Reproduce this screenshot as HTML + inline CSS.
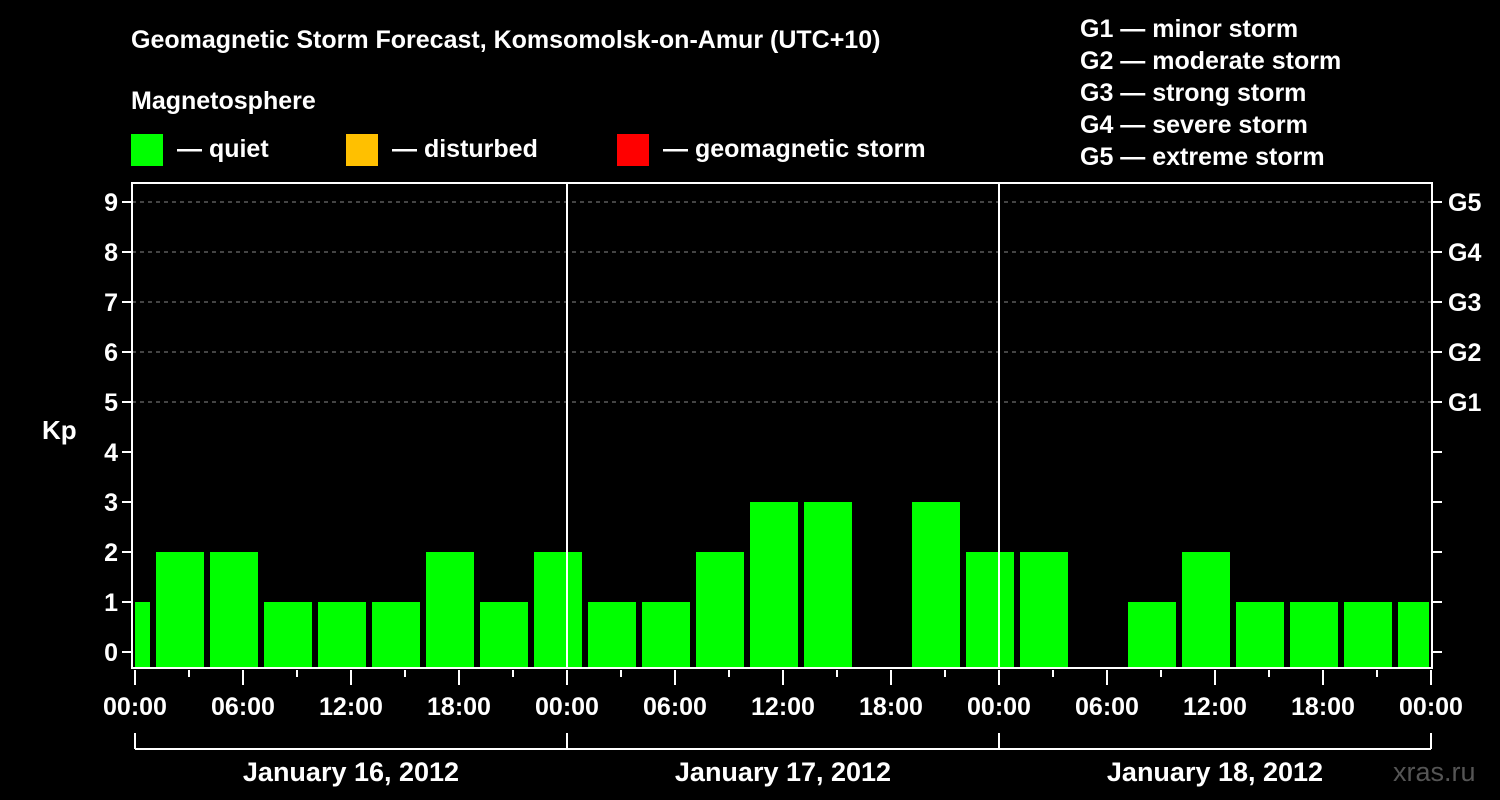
<!DOCTYPE html>
<html><head><meta charset="utf-8"><style>
html,body{margin:0;padding:0;background:#000;}
svg{display:block;font-family:"Liberation Sans",Arial,sans-serif;font-weight:bold;}
</style></head><body>
<svg id="chart" width="1500" height="800" viewBox="0 0 1500 800">
<rect width="1500" height="800" fill="#000"/>
<text x="131" y="48" fill="#fff" font-size="25">Geomagnetic Storm Forecast, Komsomolsk-on-Amur (UTC+10)</text>
<text x="131" y="109" fill="#fff" font-size="25">Magnetosphere</text>
<g><rect x="131" y="134" width="32" height="32" fill="#00ff00"/><text x="177" y="157" fill="#fff" font-size="25">— quiet</text></g>
<g><rect x="346" y="134" width="32" height="32" fill="#ffc000"/><text x="392" y="157" fill="#fff" font-size="25">— disturbed</text></g>
<g><rect x="617" y="134" width="32" height="32" fill="#ff0000"/><text x="663" y="157" fill="#fff" font-size="25">— geomagnetic storm</text></g>
<g fill="#fff" font-size="25">
<text x="1080" y="37">G1 — minor storm</text>
<text x="1080" y="69">G2 — moderate storm</text>
<text x="1080" y="101">G3 — strong storm</text>
<text x="1080" y="133">G4 — severe storm</text>
<text x="1080" y="165">G5 — extreme storm</text>
</g>
<text x="42" y="439" fill="#fff" font-size="26">Kp</text>
<text x="1393" y="781" fill="#555" font-size="27" font-weight="normal">xras.ru</text>
<g id="grid"></g>
<g id="bars"></g>
<g id="axes"></g>
</svg>
<script>
const kpValues = [1,2,2,1,1,1,2,1,2,1,1,2,3,3,null,3,2,2,null,1,2,1,1,1,1];
const yTicks = [0,1,2,3,4,5,6,7,8,9];
const gLabels = ["G1","G2","G3","G4","G5"];
const hourLabels = ["00:00","06:00","12:00","18:00"];
const dayLabels = ["January 16, 2012","January 17, 2012","January 18, 2012"];

const NS="http://www.w3.org/2000/svg";
const L=132,R=1432,T=183,B=668;
const x0=135,pxHour=18;
const xh=h=>x0+h*pxHour;
const y=v=>652-v*50;
function mk(tag,attrs,parent){const e=document.createElementNS(NS,tag);for(const k in attrs)e.setAttribute(k,attrs[k]);parent.appendChild(e);return e;}
const grid=document.getElementById('grid'),bars=document.getElementById('bars'),axes=document.getElementById('axes');

// gridlines
for(let v=5;v<=9;v++){const g=mk('line',{x1:L,x2:R,y1:y(v),y2:y(v),stroke:'#888','stroke-dasharray':'4,4','stroke-width':1},grid);

}

// bars
const clip=mk('clipPath',{id:'pc'},document.getElementById('chart'));mk('rect',{x:L+3,y:T,width:R-L-6,height:B-T},clip);
bars.setAttribute('clip-path','url(#pc)');
kpValues.forEach((v,i)=>{if(v===null)return;
 const c=xh(3*i-0.5);
 const col=v>=5?'#ff0000':(v>=4?'#ffc000':'#00ff00');
 const r=mk('rect',{x:c-24,y:y(v),width:48,height:B-y(v),fill:col},bars);
 
 });

// day separators
for(let d=1;d<3;d++){const l=mk('line',{x1:xh(24*d),x2:xh(24*d),y1:T,y2:B,stroke:'#fff','stroke-width':2},axes);

}

// frame
const f=mk('rect',{x:L,y:T,width:R-L,height:B-T,fill:'none',stroke:'#fff','stroke-width':2},axes);



// y ticks
yTicks.forEach(v=>{
 mk('line',{x1:L-10,x2:L,y1:y(v),y2:y(v),stroke:'#fff','stroke-width':2},axes);
 mk('line',{x1:R,x2:R+10,y1:y(v),y2:y(v),stroke:'#fff','stroke-width':2},axes);
 const t=mk('text',{x:L-14,y:y(v)+9,fill:'#fff','font-size':25,'text-anchor':'end'},axes);t.textContent=v;
 
 
});
gLabels.forEach((g,i)=>{const t=mk('text',{x:R+16,y:y(5+i)+9,fill:'#fff','font-size':25},axes);t.textContent=g;
 
 });

// x ticks
for(let h=0;h<=72;h+=3){const major=h%6===0;
 mk('line',{x1:xh(h),x2:xh(h),y1:B+2,y2:B+(major?17:9),stroke:'#fff','stroke-width':2},axes);
 if(major){const t=mk('text',{x:xh(h),y:715,fill:'#fff','font-size':25,'text-anchor':'middle'},axes);t.textContent=hourLabels[(h/6)%4];
 
 }}

// day brackets
mk('line',{x1:xh(0),x2:xh(72),y1:749,y2:749,stroke:'#fff','stroke-width':2},axes);
for(let d=0;d<=3;d++)mk('line',{x1:xh(24*d),x2:xh(24*d),y1:733,y2:749,stroke:'#fff','stroke-width':2},axes);
dayLabels.forEach((s,d)=>{const t=mk('text',{x:xh(24*d+12),y:781,fill:'#fff','font-size':27,'text-anchor':'middle'},axes);t.textContent=s;
 
 });
</script>
</body></html>
